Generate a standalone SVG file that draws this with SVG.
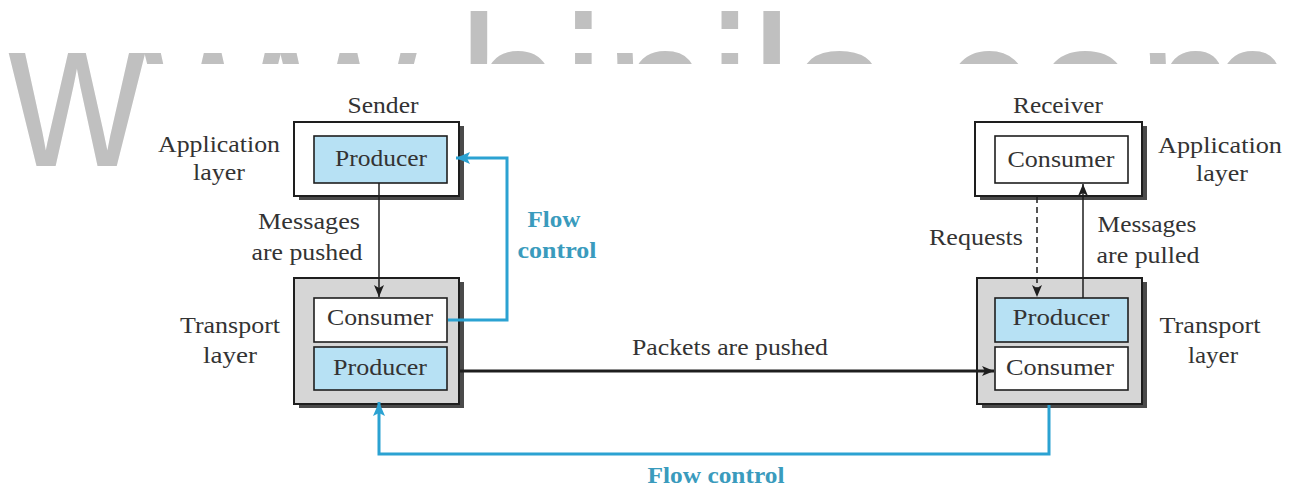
<svg xmlns="http://www.w3.org/2000/svg" width="1289" height="489" viewBox="0 0 1289 489">
  <defs>
    <style>
      .wm { font-family: "Liberation Sans", Arial, sans-serif; font-size: 188px; fill: #c0c0c0; }
      .lbl { font-family: "Liberation Serif", "Times New Roman", serif; font-size: 23px; fill: #333333; }
      .blue { font-family: "Liberation Serif", "Times New Roman", serif; font-size: 23px; font-weight: bold; fill: #3a9bbd; }
      .outer { stroke: #1e1e1e; stroke-width: 2; }
      .shadow { fill: #4a4a4a; }
      .inner { stroke: #1e1e1e; stroke-width: 1.6; }
      .prod { fill: #b7e1f4; }
      .cons { fill: #ffffff; }
      .wire { fill: none; stroke: #1e1e1e; stroke-width: 1.5; }
      .thick { fill: none; stroke: #1e1e1e; stroke-width: 3; }
      .flow { fill: none; stroke: #2ba2d2; stroke-width: 3; }
    </style>
    <clipPath id="wmTop">
      <rect x="141" y="0" width="1148" height="64"/>
    </clipPath>
    <marker id="arrowBlack" markerUnits="userSpaceOnUse" markerWidth="14" markerHeight="12" refX="12" refY="5" orient="auto">
      <path d="M0,0 L12,5 L0,10 L3,5 Z" fill="#1e1e1e"/>
    </marker>
    <marker id="arrowBlue" markerUnits="userSpaceOnUse" markerWidth="16" markerHeight="14" refX="14" refY="6" orient="auto">
      <path d="M0,0 L14,6 L0,12 L3,6 Z" fill="#2ba2d2"/>
    </marker>
  </defs>

  <!-- site watermark: first letter whole, the rest only above the figure -->
  <g id="watermark">
    <text class="wm" transform="translate(9,166) scale(1,1.135)">w</text>
    <g clip-path="url(#wmTop)">
      <text class="wm" transform="translate(144.7,166) scale(1,1.135)">ww.binils.com</text>
    </g>
  </g>

  <!-- sender, application layer -->
  <g id="sender-app">
    <text class="lbl" x="383" y="113" text-anchor="middle" textLength="71" lengthAdjust="spacingAndGlyphs">Sender</text>
    <rect class="shadow" x="299" y="126" width="165" height="74"/>
    <rect class="outer" x="294" y="122" width="165" height="74" fill="#ffffff"/>
    <rect class="inner prod" x="314" y="136" width="133" height="47"/>
    <text class="lbl" x="381" y="166" text-anchor="middle" textLength="92" lengthAdjust="spacingAndGlyphs">Producer</text>
    <text class="lbl" x="219" y="152" text-anchor="middle" textLength="122" lengthAdjust="spacingAndGlyphs">Application</text>
    <text class="lbl" x="219" y="180" text-anchor="middle" textLength="52" lengthAdjust="spacingAndGlyphs">layer</text>
  </g>

  <!-- sender, transport layer -->
  <g id="sender-transport">
    <rect class="shadow" x="299" y="282" width="165" height="126"/>
    <rect class="outer" x="294" y="278" width="165" height="126" fill="#d6d6d6"/>
    <rect class="inner cons" x="314" y="298" width="133" height="44"/>
    <text class="lbl" x="380" y="325" text-anchor="middle" textLength="106" lengthAdjust="spacingAndGlyphs">Consumer</text>
    <rect class="inner prod" x="314" y="347" width="133" height="43"/>
    <text class="lbl" x="380" y="375" text-anchor="middle" textLength="94" lengthAdjust="spacingAndGlyphs">Producer</text>
    <text class="lbl" x="230" y="333" text-anchor="middle" textLength="100" lengthAdjust="spacingAndGlyphs">Transport</text>
    <text class="lbl" x="230" y="363" text-anchor="middle" textLength="54" lengthAdjust="spacingAndGlyphs">layer</text>
  </g>

  <!-- receiver, application layer -->
  <g id="receiver-app">
    <text class="lbl" x="1058" y="113" text-anchor="middle" textLength="90" lengthAdjust="spacingAndGlyphs">Receiver</text>
    <rect class="shadow" x="980" y="126" width="167" height="74"/>
    <rect class="outer" x="975" y="122" width="167" height="74" fill="#ffffff"/>
    <rect class="inner cons" x="995" y="136" width="133" height="47"/>
    <text class="lbl" x="1061" y="167" text-anchor="middle" textLength="107" lengthAdjust="spacingAndGlyphs">Consumer</text>
    <text class="lbl" x="1220" y="153" text-anchor="middle" textLength="124" lengthAdjust="spacingAndGlyphs">Application</text>
    <text class="lbl" x="1222" y="181" text-anchor="middle" textLength="52" lengthAdjust="spacingAndGlyphs">layer</text>
  </g>

  <!-- receiver, transport layer -->
  <g id="receiver-transport">
    <rect class="shadow" x="982" y="282" width="165" height="126"/>
    <rect class="outer" x="977" y="278" width="165" height="126" fill="#d6d6d6"/>
    <rect class="inner prod" x="995" y="298" width="133" height="44"/>
    <text class="lbl" x="1061" y="325" text-anchor="middle" textLength="97" lengthAdjust="spacingAndGlyphs">Producer</text>
    <rect class="inner cons" x="995" y="347" width="133" height="43"/>
    <text class="lbl" x="1060" y="375" text-anchor="middle" textLength="108" lengthAdjust="spacingAndGlyphs">Consumer</text>
    <text class="lbl" x="1210" y="333" text-anchor="middle" textLength="101" lengthAdjust="spacingAndGlyphs">Transport</text>
    <text class="lbl" x="1213" y="363" text-anchor="middle" textLength="50" lengthAdjust="spacingAndGlyphs">layer</text>
  </g>

  <!-- connectors and their labels -->
  <g id="connectors">
    <line class="wire" x1="379" y1="183" x2="379" y2="297" marker-end="url(#arrowBlack)"/>
    <text class="lbl" x="309" y="229" text-anchor="middle" textLength="102" lengthAdjust="spacingAndGlyphs">Messages</text>
    <text class="lbl" x="307" y="260" text-anchor="middle" textLength="111" lengthAdjust="spacingAndGlyphs">are pushed</text>

    <path class="flow" d="M448,320 H507 V158 H456" marker-end="url(#arrowBlue)"/>
    <text class="blue" x="554" y="227" text-anchor="middle" textLength="53" lengthAdjust="spacingAndGlyphs">Flow</text>
    <text class="blue" x="557" y="258" text-anchor="middle" textLength="79" lengthAdjust="spacingAndGlyphs">control</text>

    <line class="wire" x1="1037" y1="197" x2="1037" y2="297" stroke-dasharray="6,4" marker-end="url(#arrowBlack)"/>
    <text class="lbl" x="976" y="245" text-anchor="middle" textLength="94" lengthAdjust="spacingAndGlyphs">Requests</text>

    <line class="wire" x1="1083" y1="298" x2="1083" y2="184" marker-end="url(#arrowBlack)"/>
    <text class="lbl" x="1147" y="232" text-anchor="middle" textLength="99" lengthAdjust="spacingAndGlyphs">Messages</text>
    <text class="lbl" x="1148" y="263" text-anchor="middle" textLength="103" lengthAdjust="spacingAndGlyphs">are pulled</text>

    <line class="thick" x1="460" y1="371" x2="994" y2="371" marker-end="url(#arrowBlack)"/>
    <text class="lbl" x="730" y="355" text-anchor="middle" textLength="196" lengthAdjust="spacingAndGlyphs">Packets are pushed</text>

    <path class="flow" d="M1049,405 V454 H379 V402" marker-end="url(#arrowBlue)"/>
    <text class="blue" x="716" y="483" text-anchor="middle" textLength="137" lengthAdjust="spacingAndGlyphs">Flow control</text>
  </g>
</svg>
